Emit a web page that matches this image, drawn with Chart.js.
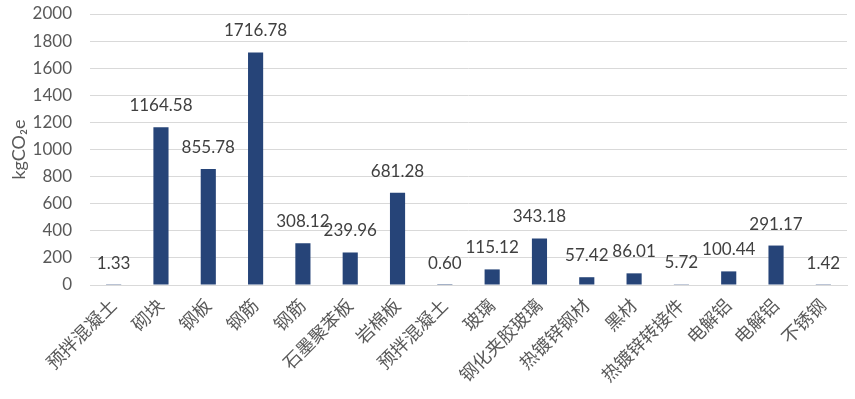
<!DOCTYPE html>
<html>
<head>
<meta charset="utf-8">
<script src="https://cdn.jsdelivr.net/npm/chart.js@4"></script>
<style>
  html, body { margin: 0; padding: 0; background: #fff; }
  #wrap { width: 855px; height: 399px; }
</style>
</head>
<body>
<div id="wrap"><canvas id="chart-bars" width="855" height="399"></canvas></div>
<script>
// materiales y emisiones
const categorias = ["预拌混凝土", "砌块", "钢板", "钢筋", "钢筋", "石墨聚苯板", "岩棉板", "预拌混凝土",
	"玻璃", "钢化夹胶玻璃", "热镀锌钢材", "黑材", "热镀锌转接件", "电解铝", "电解铝", "不锈钢"];
const emisiones = [1.33, 1164.58, 855.78, 1716.78, 308.12, 239.96, 681.28, 0.60,
	115.12, 343.18, 57.42, 86.01, 5.72, 100.44, 291.17, 1.42];
const ejeY = [0, 200, 400, 600, 800, 1000, 1200, 1400, 1600, 1800, 2000];

const fuente = "Lato, 'Noto Sans CJK SC', sans-serif";

// etiquetas de datos encima de cada barra
const etiquetas = {
	id: "etiquetas",
	afterDatasetsDraw(chart) {
		const ctx = chart.ctx;
		const meta = chart.getDatasetMeta(0);
		ctx.save();
		ctx.font = "17px " + fuente;
		ctx.fillStyle = "#404040";
		ctx.textAlign = "center";
		ctx.textBaseline = "bottom";
		meta.data.forEach((bar, i) => {
			ctx.fillText(emisiones[i].toFixed(2), bar.x, bar.y - 13);
		});
		ctx.restore();
	}
};

const ctx20 = document.getElementById("chart-bars").getContext("2d");
let myChart = new Chart(ctx20, {
	type: "bar",
	data: {
		labels: categorias,
		datasets: [
			{
				label: "kgCO2e",
				data: emisiones,
				backgroundColor: "#264478",
				barPercentage: 0.32,
				categoryPercentage: 1,
			}
		],
	},
	options: {
		responsive: false,
		animation: false,
		layout: { padding: { top: 14, right: 8, left: 0, bottom: 0 } },
		plugins: {
			legend: { display: false },
			tooltip: { enabled: false },
		},
		scales: {
			x: {
				grid: { display: false },
				border: { color: "#d9d9d9" },
				ticks: {
					color: "#595959",
					font: { family: fuente, size: 18 },
					maxRotation: 45,
					minRotation: 45,
					autoSkip: false,
					padding: 2,
				},
				afterFit(scale) {
					scale.height = 399 - 285;
					scale.paddingLeft = 0;
					scale.paddingRight = 0;
				},
			},
			y: {
				min: 0,
				max: 2000,
				afterBuildTicks(scale) { scale.ticks = ejeY.map(v => ({ value: v })); },
				grid: { color: "#d9d9d9", lineWidth: 1, drawTicks: false },
				border: { display: false },
				ticks: {
					color: "#595959",
					font: { family: fuente, size: 17 },
					padding: 18,
					callback: (v) => String(v),
				},
				title: {
					display: true,
					text: "kgCO₂e",
					color: "#595959",
					font: { family: fuente, size: 18 },
					padding: { top: 8, bottom: 0 },
				},
				afterFit(scale) {
					scale.width = 90;
					scale.paddingTop = 0;
					scale.paddingBottom = 0;
				},
			},
		},
	},
	plugins: [etiquetas],
});
</script>
</body>
</html>
